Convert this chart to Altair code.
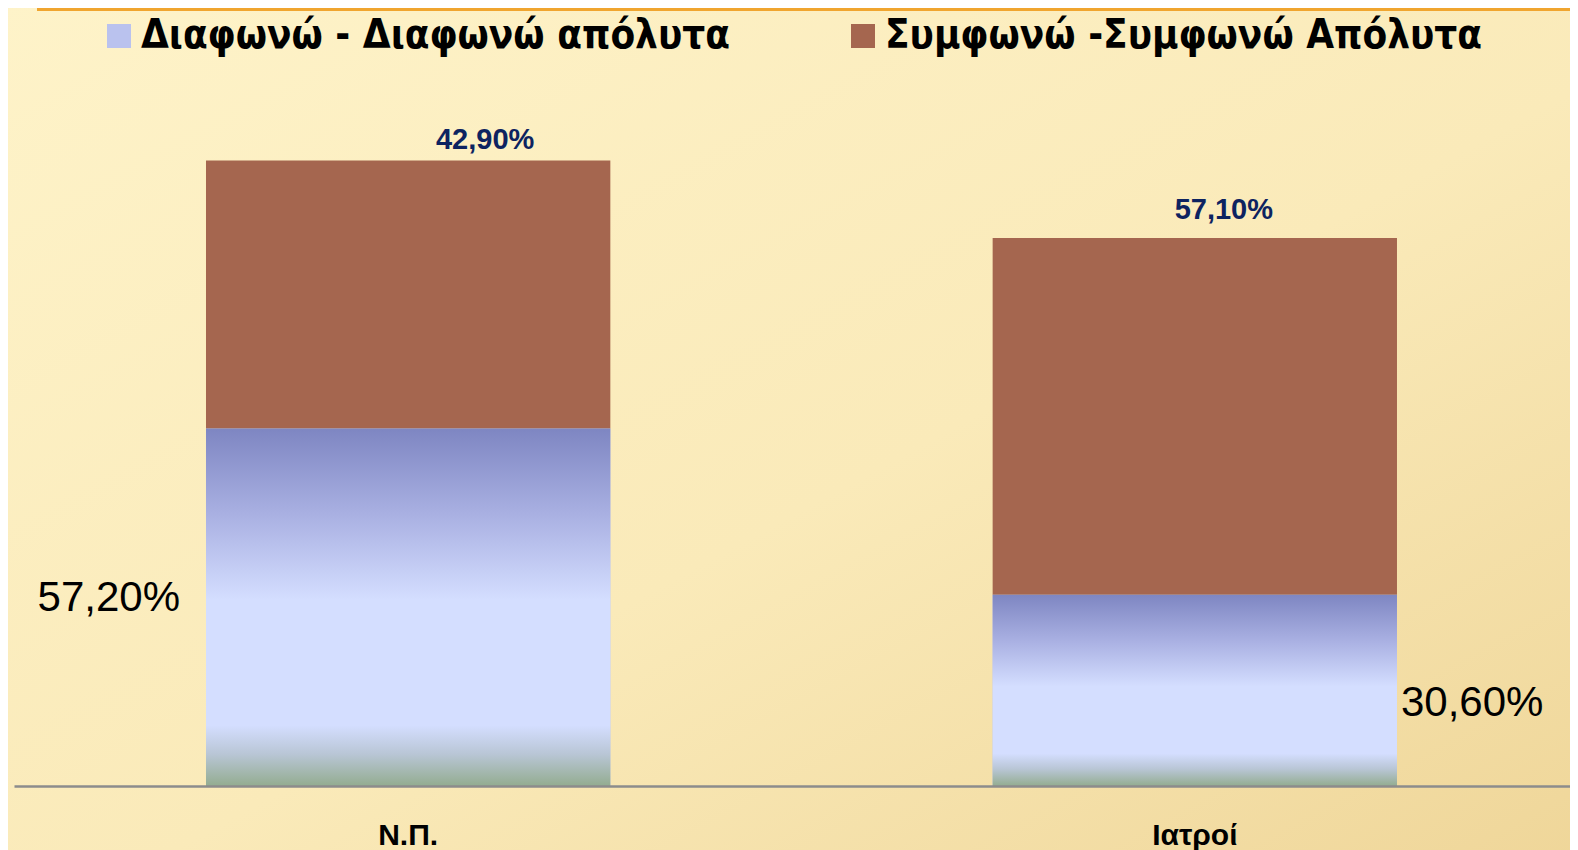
import altair as alt
import pandas as pd

# ---- data ----
categories = ["Ν.Π.", "Ιατροί"]
series = ["Διαφωνώ - Διαφωνώ απόλυτα", "Συμφωνώ -Συμφωνώ Απόλυτα"]
disagree = [57.2, 30.6]
agree = [42.9, 57.1]
disagree_labels = ["57,20%", "30,60%"]
agree_labels = ["42,90%", "57,10%"]

rows = []
for i, c in enumerate(categories):
    rows.append(dict(cat=c, series=series[0], value=disagree[i], order=0))
    rows.append(dict(cat=c, series=series[1], value=agree[i], order=1))
df = pd.DataFrame(rows)

df_dis = pd.DataFrame({"cat": categories, "value": disagree, "label": disagree_labels})
df_dis["mid"] = df_dis["value"] / 2
df_agr = pd.DataFrame({"cat": categories, "value": agree, "label": agree_labels})
df_agr["top"] = [d + a for d, a in zip(disagree, agree)]

W, H = 1556, 778

x_scale = alt.Scale(domain=categories, paddingInner=0.486, paddingOuter=0.232, align=0.526)
y_scale = alt.Scale(domain=[0, 124.5], nice=False, zero=True)

x_axis = alt.Axis(
    title=None,
    labelAngle=0,
    labelFont="Liberation Sans",
    labelFontWeight="bold",
    labelFontSize=30,
    labelColor="black",
    labelBaseline="alphabetic",
    labelPadding=58,
    ticks=False,
    domainColor="#8C8C8C",
    domainWidth=2.5,
    grid=False,
    zindex=2,
)


def xenc(bp=0.5):
    return alt.X("cat:N", scale=x_scale, sort=categories, bandPosition=bp, axis=x_axis)


bg_data = pd.DataFrame({"k": [0]})
background = alt.Chart(bg_data).mark_rect(
    fill=alt.Gradient(
        gradient="linear",
        x1=0, y1=0, x2=1, y2=1,
        stops=[
            alt.GradientStop(color="#FEF3C9", offset=0),
            alt.GradientStop(color="#FAEAB9", offset=0.55),
            alt.GradientStop(color="#EFD699", offset=1),
        ],
    )
).encode(
    x=alt.value(-14), x2=alt.value(W + 14), y=alt.value(-8), y2=alt.value(H + 72)
)

top_rule = alt.Chart(bg_data).mark_rule(color="#F0A52F", strokeWidth=4).encode(
    x=alt.value(23), x2=alt.value(W + 14), y=alt.value(1)
)

legend_font = "Liberation Sans Narrow, DejaVu Sans Condensed, Arial Narrow, sans-serif"

bars = alt.Chart(df).mark_bar().encode(
    x=xenc(),
    y=alt.Y("value:Q", stack="zero", scale=y_scale, axis=None),
    color=alt.Color(
        "series:N",
        scale=alt.Scale(domain=series, range=["#BAC2EE", "#A5664F"]),
        legend=alt.Legend(
            title=None,
            orient="none",
            legendX=85,
            legendY=8,
            direction="horizontal",
            symbolType="square",
            symbolSize=576,
            symbolStrokeWidth=0,
            labelFont=legend_font,
            labelFontWeight="bold",
            labelFontSize=40,
            labelColor="black",
            labelOffset=2,
            labelLimit=1000,
            columnPadding=113,
            padding=0,
        ),
    ),
    order=alt.Order("order:Q"),
)

grad_bars = alt.Chart(df_dis).mark_bar(
    color=alt.Gradient(
        gradient="linear",
        x1=0, y1=0, x2=0, y2=1,
        stops=[
            alt.GradientStop(color="#7E86C2", offset=0),
            alt.GradientStop(color="#A9B0E2", offset=0.24),
            alt.GradientStop(color="#D4DEFF", offset=0.48),
            alt.GradientStop(color="#D4DEFF", offset=0.83),
            alt.GradientStop(color="#B9C6D6", offset=0.91),
            alt.GradientStop(color="#93AC90", offset=1),
        ],
    )
).encode(x=xenc(), y=alt.Y("value:Q", scale=y_scale, axis=None))

top_style = dict(font="Liberation Sans", fontWeight="bold", fontSize=29, color="#0D2360",
                 align="center", baseline="alphabetic")
top_lbl_1 = alt.Chart(df_agr).transform_filter(alt.datum.cat == categories[0]).mark_text(
    dx=77, dy=-11, **top_style
).encode(x=xenc(), y=alt.Y("top:Q", scale=y_scale, axis=None), text="label:N")
top_lbl_2 = alt.Chart(df_agr).transform_filter(alt.datum.cat == categories[1]).mark_text(
    dx=29, dy=-19, **top_style
).encode(x=xenc(), y=alt.Y("top:Q", scale=y_scale, axis=None), text="label:N")

side_style = dict(font="Liberation Sans", fontSize=42, color="black", baseline="alphabetic")
side_lbl_1 = alt.Chart(df_dis).transform_filter(alt.datum.cat == categories[0]).mark_text(
    align="right", dx=-26, dy=4, **side_style
).encode(x=xenc(0), y=alt.Y("mid:Q", scale=y_scale, axis=None), text="label:N")
side_lbl_2 = alt.Chart(df_dis).transform_filter(alt.datum.cat == categories[1]).mark_text(
    align="left", dx=4, dy=26, **side_style
).encode(x=xenc(1), y=alt.Y("mid:Q", scale=y_scale, axis=None), text="label:N")

chart = alt.layer(
    background, top_rule, bars, grad_bars, top_lbl_1, top_lbl_2, side_lbl_1, side_lbl_2
).properties(
    width=W,
    height=H,
    autosize=alt.AutoSizeParams(type="none"),
    padding={"left": 6, "top": 0, "right": 0, "bottom": 64},
).configure(
    background="#FBEBBB",
).configure_view(stroke=None)

chart.save("out.html", embed_options={"renderer": "svg", "actions": False})
